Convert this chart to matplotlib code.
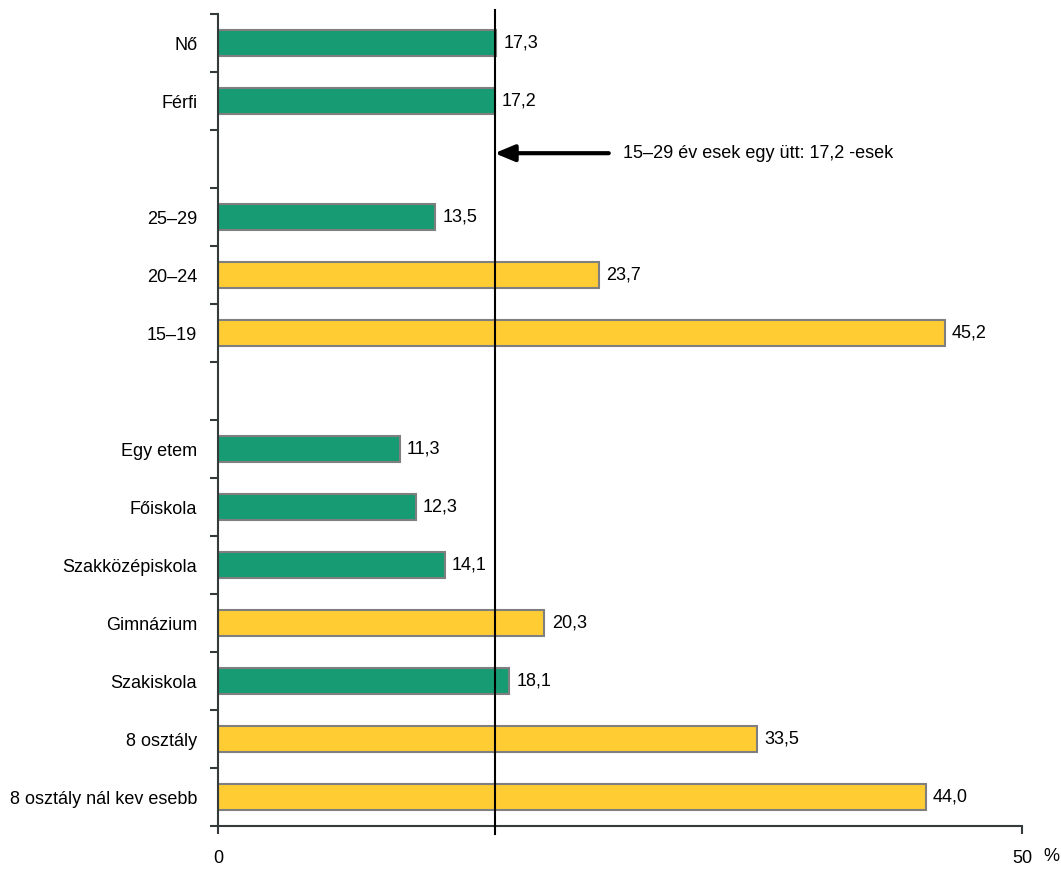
import numpy as np
from matplotlib import pyplot as plt

plt.rcParams['font.family'] = ['Liberation Sans', 'DejaVu Sans']

# top to bottom, None = empty slot
labels = ['Nő', 'Férfi', '', '25–29', '20–24', '15–19', '', 'Egy etem', 'Főiskola',
          'Szakközépiskola', 'Gimnázium', 'Szakiskola', '8 osztály', '8 osztály nál kev esebb']
values = [17.3, 17.2, None, 13.5, 23.7, 45.2, None, 11.3, 12.3, 14.1, 20.3, 18.1, 33.5, 44.0]
above = [False, False, None, False, True, True, None, False, False, False, True, False, True, True]
total = 17.2
note = '15–29 év esek egy ütt: 17,2 -esek'

green = '#169b72'
yellow = '#ffcc33'
edge = '#7f7f7f'
fs = 13

fig = plt.figure(figsize=(10.61, 8.74), dpi=100)
ax = fig.add_axes([218/1061, 48/874, 804/1061, 812/874])

n = len(labels)
pos = np.arange(n)
for i, (v, a) in enumerate(zip(values, above)):
    if v is None:
        continue
    ax.barh(i, v, height=0.45, color=yellow if a else green, edgecolor=edge, linewidth=1.5, zorder=2)
    ax.text(v + 0.45, i, f'{v:.1f}'.replace('.', ','), va='center', ha='left', fontsize=fs)

ax.set_ylim(n - 0.5, -0.5)
ax.set_xlim(0, 50)
ax.set_yticks(pos)
ax.set_yticklabels(labels, fontsize=fs)
ax.tick_params(axis='y', length=0, pad=15)
ax.set_yticks(np.arange(-0.5, n), minor=True)
ax.tick_params(axis='y', which='minor', length=6, width=1.5, direction='out', color='#333b3b')
ax.set_xticks([0, 50])
ax.set_xticklabels(['0', '50'], fontsize=fs)
ax.tick_params(axis='x', length=6, width=1.5, direction='out', pad=11, color='#333b3b')
ax.annotate('%', xy=(51.8, 0), xycoords=('data', 'axes fraction'), xytext=(0, -22),
            textcoords='offset points', fontsize=fs, ha='center', va='center', annotation_clip=False)

for s in ['top', 'right']:
    ax.spines[s].set_visible(False)
for s in ['left', 'bottom']:
    ax.spines[s].set_color('#333b3b')
    ax.spines[s].set_linewidth(1.5)

ax.axvline(total, ymin=-0.01, ymax=1.005, color='black', linewidth=1.5, zorder=3, clip_on=False)
ax.annotate('', xy=(total, 1.9), xytext=(24.3, 1.9),
            arrowprops=dict(arrowstyle='-|>,head_length=1.2,head_width=0.5', color='black', lw=3,
                            shrinkA=0, shrinkB=0))
ax.text(25.2, 1.9, note, va='center', ha='left', fontsize=fs)

fig.savefig('out.png', dpi=100)
